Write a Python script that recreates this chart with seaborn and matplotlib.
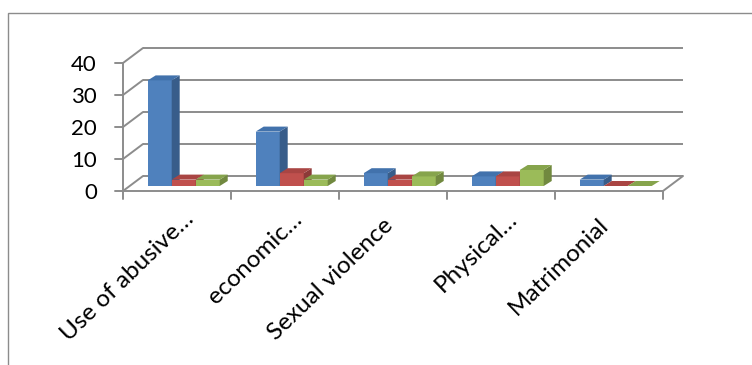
import numpy as np
import pandas as pd
import matplotlib
matplotlib.use("Agg")
import matplotlib.pyplot as plt
import seaborn as sns
from matplotlib.transforms import ScaledTranslation
from matplotlib.patches import Polygon, Rectangle
from matplotlib.lines import Line2D

# ---------------- data ----------------
categories = ["Use of abusive…", "economic…", "Sexual violence", "Physical…", "Matrimonial"]
series_names = ["Series1", "Series2", "Series3"]
series1 = [33, 17, 4, 3, 2]
series2 = [2, 4, 2, 3, 0]
series3 = [2, 2, 3, 5, 0]
y_ticks = [0, 10, 20, 30, 40]

front_colors = ["#4F81BD", "#C0504D", "#9BBB59"]
top_colors = ["#4272AC", "#A94543", "#86A44C"]
side_colors = ["#385D8A", "#8C3A38", "#71893F"]
grid_color = "#8C8C8C"

# ---------------- setup ----------------
sns.set_theme(style="white")
plt.rcParams["font.family"] = ["Lato", "DejaVu Sans"]

DPI = 100
W, H = 752, 365
fig = plt.figure(figsize=(W / DPI, H / DPI), dpi=DPI)
fig.patch.set_facecolor("white")

# axes = plane in which the bars stand (mid depth of the 3-D box)
ax = fig.add_axes([129.7 / W, 179 / H, 540 / W, 128 / H])

df = pd.DataFrame({
    "category": categories * 3,
    "series": [series_names[0]] * 5 + [series_names[1]] * 5 + [series_names[2]] * 5,
    "value": series1 + series2 + series3,
})

sns.barplot(data=df, x="category", y="value", hue="series", order=categories,
            hue_order=series_names, palette=front_colors, saturation=1,
            width=0.667, gap=0, errorbar=None, legend=False, ax=ax,
            linewidth=0)

ax.set_xlim(-0.5, len(categories) - 0.5)
ax.set_ylim(0, 40)
ax.set_axis_off()

px_per_cat = 540 / len(categories)
px_per_unit = 128 / 40


def off(dx, dy):
    """data transform shifted by dx, dy pixels (dy up)."""
    return ax.transData + ScaledTranslation(dx / DPI, dy / DPI, fig.dpi_scale_trans)


FRONT = (-6.7, -5)   # front plane of the 3-D box relative to the bar plane (px)
BACK = (13.3, 10)    # back wall relative to the bar plane (px)
x0, x1 = -0.5, len(categories) - 0.5
lw = 1.4

fx = lambda x: x + FRONT[0] / px_per_cat
fy = lambda y: y + FRONT[1] / px_per_unit
bx = lambda x: x + BACK[0] / px_per_cat
by = lambda y: y + BACK[1] / px_per_unit

# back wall gridlines
for v in y_ticks:
    ax.plot([x0, x1], [v, v], color=grid_color, lw=lw, transform=off(*BACK),
            clip_on=False, zorder=1, solid_capstyle="butt")
# side wall diagonals
for v in y_ticks:
    ax.plot([fx(x0), bx(x0)], [fy(v), by(v)], color=grid_color, lw=lw,
            clip_on=False, zorder=1)
# floor right edge
ax.plot([fx(x1), bx(x1)], [fy(0), by(0)], color=grid_color, lw=lw,
        clip_on=False, zorder=1)
# floor front edge
ax.plot([x0, x1], [0, 0], color=grid_color, lw=lw, transform=off(*FRONT),
        clip_on=False, zorder=1, solid_capstyle="butt")
# value axis
ax.plot([x0, x0], [0, 40], color=grid_color, lw=lw, transform=off(*FRONT),
        clip_on=False, zorder=1, solid_capstyle="butt")
for v in y_ticks:
    ax.add_line(Line2D([x0 - 8 / px_per_cat, x0], [v, v], color=grid_color, lw=lw,
                       transform=off(*FRONT), clip_on=False, zorder=1))
    ax.text(x0, v, str(v), transform=off(FRONT[0] - 26, FRONT[1] - 2),
            ha="right", va="center", fontsize=16, color="black")
# category ticks
for b in np.arange(len(categories) + 1) - 0.5:
    ax.add_line(Line2D([b, b], [0, -8 / px_per_unit], color=grid_color, lw=lw,
                       transform=off(*FRONT), clip_on=False, zorder=1))
# category labels (truncated labels sit further along their slant, as in Excel)
for i, lab in enumerate(categories):
    if lab.endswith("…"):
        dx, dy = -0.7, -22.5
    else:
        dx, dy = -17.7, -28.5
    ax.text(i, 0, lab, transform=off(dx, dy), rotation=44,
            rotation_mode="anchor", ha="right", va="top", fontsize=17.5,
            color="black")

# ---------------- 3-D faces of the bars ----------------
ddx = 8 / px_per_cat
ddy = 5 / px_per_unit
bars = list(ax.patches)
n_cat = len(categories)
order = sorted(range(len(bars)), key=lambda k: bars[k].get_x())
for rank, k in enumerate(order):
    p = bars[k]
    s = k // n_cat
    z = 3 + rank * 0.1
    p.set_zorder(z)
    bx0 = p.get_x()
    bx1 = bx0 + p.get_width()
    h = p.get_height()
    top = Polygon([(bx0, h), (bx1, h), (bx1 + ddx, h + ddy), (bx0 + ddx, h + ddy)],
                  closed=True, facecolor=top_colors[s], edgecolor="none",
                  zorder=z + 0.05, clip_on=False)
    side = Polygon([(bx1, 0), (bx1 + ddx, ddy), (bx1 + ddx, h + ddy), (bx1, h)],
                   closed=True, facecolor=side_colors[s], edgecolor="none",
                   zorder=z + 0.04, clip_on=False)
    ax.add_patch(side)
    ax.add_patch(top)
    p.set_clip_on(False)

# chart area border (runs off the right and bottom of the image)
fig.add_artist(Rectangle((7.5 / W, -0.1), 1.2, (H - 12.5) / H + 0.1,
                         transform=fig.transFigure, fill=False,
                         edgecolor="#8C8C8C", lw=1.0))

fig.savefig("out.png", dpi=DPI, facecolor="white")
